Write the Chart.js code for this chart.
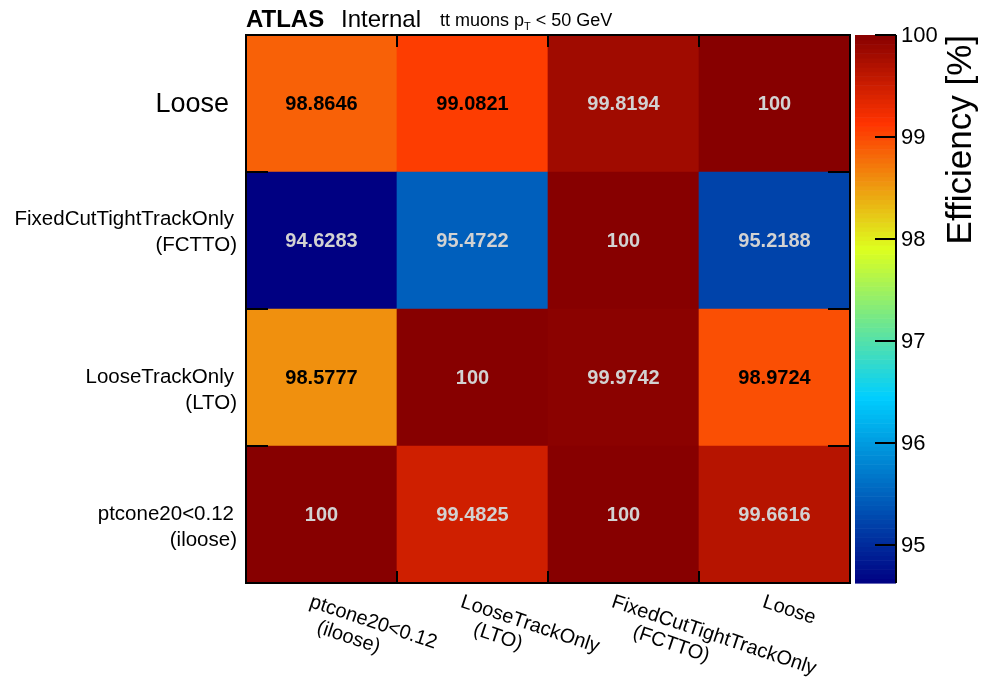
<!DOCTYPE html>
<html>
<head>
<meta charset="utf-8">
<script src="https://cdn.jsdelivr.net/npm/chart.js@4.4.1/dist/chart.umd.min.js"></script>
<style>
  html, body { margin: 0; padding: 0; background: #fff; }
  #wrap { width: 984px; height: 683px; }
</style>
</head>
<body>
<div id="wrap"><canvas id="effMap" width="984" height="683"></canvas></div>
<script>
// isolation working points, same order on both axes (y: bottom to top)
const xCategories = [['ptcone20<0.12', '(iloose)'], ['LooseTrackOnly', '(LTO)'], ['FixedCutTightTrackOnly', '(FCTTO)'], ['Loose']];
const yCategories = [['ptcone20<0.12', '(iloose)'], ['LooseTrackOnly', '(LTO)'], ['FixedCutTightTrackOnly', '(FCTTO)'], ['Loose']];

// efficiency [%] per row, columns follow xCategories
const effIloose = [100, 99.4825, 100, 99.6616];
const effLTO    = [98.5777, 100, 99.9742, 98.9724];
const effFCTTO  = [94.6283, 95.4722, 100, 95.2188];
const effLoose  = [98.8646, 99.0821, 99.8194, 100];

const zTicks = [95, 96, 97, 98, 99, 100];
const zMin = 94.6283;
const zMax = 100;

const rows = [effIloose, effLTO, effFCTTO, effLoose];

// ATLAS style 5 stop palette
const stops = [0.00, 0.34, 0.61, 0.84, 1.00];
const red   = [0.00, 0.00, 0.87, 1.00, 0.53];
const green = [0.00, 0.81, 1.00, 0.20, 0.00];
const blue  = [0.51, 1.00, 0.12, 0.00, 0.00];

function palette(v) {
    let f = (v - zMin) / (zMax - zMin);
    f = Math.max(0, Math.min(1, f));
    let i = 0;
    while (i < stops.length - 2 && f > stops[i + 1]) i++;
    const t = (f - stops[i]) / (stops[i + 1] - stops[i]);
    const c = (arr) => Math.round(255 * (arr[i] + (arr[i + 1] - arr[i]) * t));
    return [c(red), c(green), c(blue)];
}
function rgb(v) {
    const p = palette(v);
    return 'rgb(' + p[0] + ',' + p[1] + ',' + p[2] + ')';
}
function textColor(v) {
    const p = palette(v);
    const lum = 0.299 * p[0] + 0.587 * p[1] + 0.114 * p[2];
    return lum > 95 ? '#000000' : '#d2d2d2';
}

const FONT = '"Liberation Sans", Arial, Helvetica, sans-serif';

const datasets = rows.map((vals, r) => ({
    label: yCategories[r].join(' '),
    data: vals.map(() => [r - 0.5, r + 0.5]),
    backgroundColor: vals.map(v => rgb(v)),
    effValues: vals
}));

const decorPlugin = {
    id: 'decor',
    afterDatasetsDraw(chart) {
        const ctx = chart.ctx;
        const area = chart.chartArea;
        const xs = chart.scales.x;
        const ys = chart.scales.y;
        const zs = chart.scales.z;
        ctx.save();

        // cell values
        ctx.font = 'bold 20px ' + FONT;
        ctx.textAlign = 'center';
        ctx.textBaseline = 'middle';
        chart.data.datasets.forEach((ds, r) => {
            ds.effValues.forEach((v, i) => {
                ctx.fillStyle = textColor(v);
                ctx.fillText(String(v), xs.getPixelForValue(i), ys.getPixelForValue(r) + 1);
            });
        });

        // frame and ticks
        ctx.strokeStyle = '#000';
        ctx.lineWidth = 2;
        ctx.strokeRect(area.left, area.top, area.right - area.left, area.bottom - area.top);
        ctx.beginPath();
        for (let i = 0; i < xCategories.length - 1; i++) {
            const x = Math.round(xs.getPixelForValue(i + 0.5));
            ctx.moveTo(x, area.bottom); ctx.lineTo(x, area.bottom - 12);
            ctx.moveTo(x, area.top); ctx.lineTo(x, area.top + 12);
        }
        for (let r = -1; r < yCategories.length; r++) {
            const y = Math.round(ys.getPixelForValue(r + 0.5));
            ctx.moveTo(area.left, y); ctx.lineTo(area.left + 22, y);
            ctx.moveTo(area.right, y); ctx.lineTo(area.right - 22, y);
        }
        ctx.stroke();

        // y labels
        ctx.fillStyle = '#000';
        ctx.textAlign = 'right';
        ctx.textBaseline = 'middle';
        const yShift = [0, 0, -21, 0];
        yCategories.forEach((lines, r) => {
            const cy = ys.getPixelForValue(r);
            if (lines.length === 1) {
                ctx.font = '27px ' + FONT;
                ctx.fillText(lines[0], 229, cy + 1);
            } else {
                ctx.font = '20.5px ' + FONT;
                ctx.fillText(lines[0], 234, cy + yShift[r]);
                ctx.fillText(lines[1], 237, cy + yShift[r] + 26);
            }
        });

        // x labels, rotated clockwise
        ctx.font = '20px ' + FONT;
        ctx.textAlign = 'left';
        ctx.textBaseline = 'top';
        xCategories.forEach((lines, i) => {
            const cx = xs.getPixelForValue(i);
            ctx.save();
            ctx.translate(cx - 8, area.bottom + 9);
            ctx.rotate(18.5 * Math.PI / 180);
            ctx.fillText(lines[0], 0, 0);
            if (lines.length > 1) {
                const off = (ctx.measureText(lines[0]).width - ctx.measureText(lines[1]).width) * 0.22;
                ctx.fillText(lines[1], off, 22);
            }
            ctx.restore();
        });

        // colour bar
        const bx0 = 855, bx1 = 896;
        const nBands = 120;
        for (let k = 0; k < nBands; k++) {
            const v0 = zMin + (zMax - zMin) * k / nBands;
            const v1 = zMin + (zMax - zMin) * (k + 1) / nBands;
            const y0 = zs.getPixelForValue(v0);
            const y1 = zs.getPixelForValue(v1);
            ctx.fillStyle = rgb((v0 + v1) / 2);
            ctx.fillRect(bx0, y1, bx1 - bx0, y0 - y1 + 0.6);
        }
        ctx.strokeStyle = '#000';
        ctx.lineWidth = 2;
        ctx.beginPath();
        ctx.moveTo(bx1, zs.getPixelForValue(zMax));
        ctx.lineTo(bx1, zs.getPixelForValue(zMin));
        zTicks.forEach(t => {
            const y = Math.round(zs.getPixelForValue(t));
            ctx.moveTo(bx1, y); ctx.lineTo(bx1 - 21, y);
        });
        ctx.stroke();
        ctx.fillStyle = '#000';
        ctx.font = '22px ' + FONT;
        ctx.textAlign = 'left';
        ctx.textBaseline = 'middle';
        zTicks.forEach(t => ctx.fillText(String(t), 901, zs.getPixelForValue(t) + 1));

        // z axis title
        ctx.save();
        ctx.translate(971, area.top);
        ctx.rotate(-Math.PI / 2);
        ctx.font = '35px ' + FONT;
        ctx.textAlign = 'right';
        ctx.textBaseline = 'alphabetic';
        ctx.fillText('Efficiency [%]', 0, 0);
        ctx.restore();

        // ATLAS label
        ctx.textAlign = 'left';
        ctx.textBaseline = 'alphabetic';
        ctx.font = 'bold 24px ' + FONT;
        ctx.fillText('ATLAS', 246, 27);
        ctx.font = '24px ' + FONT;
        ctx.fillText('Internal', 341, 27);
        ctx.font = '18px ' + FONT;
        let tx = 440;
        ctx.fillText('tt muons p', tx, 26);
        tx += ctx.measureText('tt muons p').width;
        ctx.font = '11px ' + FONT;
        ctx.fillText('T', tx, 30);
        tx += ctx.measureText('T').width;
        ctx.font = '18px ' + FONT;
        ctx.fillText(' < 50 GeV', tx, 26);

        ctx.restore();
    }
};

new Chart(document.getElementById('effMap'), {
    type: 'bar',
    data: {
        labels: xCategories.map(l => l.join(' ')),
        datasets: datasets
    },
    options: {
        responsive: false,
        animation: false,
        layout: { padding: { left: 246, right: 134, top: 35, bottom: 100 } },
        plugins: {
            legend: { display: false },
            tooltip: { enabled: false }
        },
        datasets: {
            bar: { grouped: false, barPercentage: 1, categoryPercentage: 1, borderWidth: 0 }
        },
        scales: {
            x: { display: false },
            y: { type: 'linear', display: false, min: -0.5, max: 3.5, beginAtZero: false },
            z: { type: 'linear', display: false, position: 'right', min: zMin, max: zMax, beginAtZero: false }
        }
    },
    plugins: [decorPlugin]
});
</script>
</body>
</html>
